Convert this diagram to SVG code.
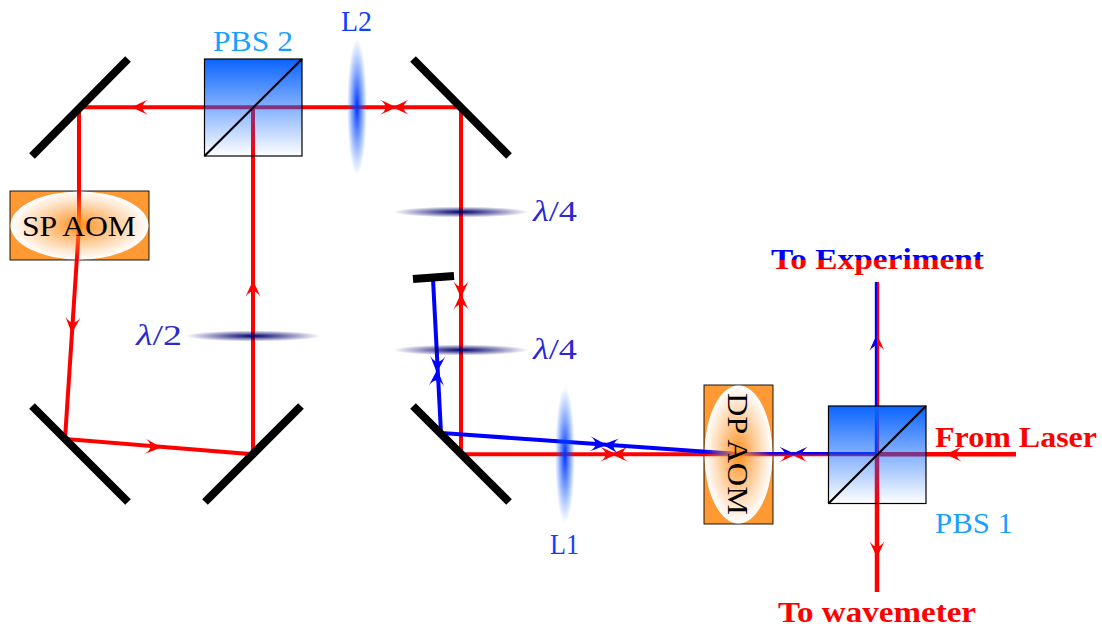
<svg xmlns="http://www.w3.org/2000/svg" xmlns:xlink="http://www.w3.org/1999/xlink" width="1102" height="627" viewBox="0 0 1102 627">
<style>
text{font-family:"Liberation Serif","Times New Roman",serif;font-size:30px}
.b{font-weight:bold}
.pbs{fill:#1a9fff}
.lens{fill:#1040ff}
.wave{fill:#2a2ad0}
.red{fill:#ff0000}
.mirror{stroke:#000;stroke-width:8;fill:none}
.rb{stroke:#ff0000;stroke-width:4;fill:none}
.bb{stroke:#0000ff;stroke-width:4;fill:none}
.rt{stroke:#ff0000;stroke-width:2.4;fill:none}
.bt{stroke:#0000ff;stroke-width:2.4;fill:none}
.cube{fill:url(#cubeG);stroke:#000;stroke-width:1.2}
.diag{stroke:#000;stroke-width:2.2}
.aomr{fill:#ff9933;stroke:#000;stroke-width:.9}
</style>
<defs>
<linearGradient id="cubeG" x1="0" y1="0" x2="0" y2="1"><stop offset="0" stop-color="#0a64ff"/><stop offset="1" stop-color="#0a64ff" stop-opacity="0"/></linearGradient>
<radialGradient id="glow"><stop offset="0" stop-color="#ff8a10" stop-opacity=".95"/><stop offset="1" stop-color="#ff9933" stop-opacity="0"/></radialGradient>
<radialGradient id="lensG"><stop offset="0" stop-color="#0030ff"/><stop offset="1" stop-color="#0a64ff" stop-opacity="0"/></radialGradient>
<radialGradient id="waveG"><stop offset="0" stop-color="#00006e"/><stop offset="1" stop-color="#00006e" stop-opacity="0"/></radialGradient>
<linearGradient id="expG" gradientUnits="userSpaceOnUse" x1="0" y1="240" x2="0" y2="280"><stop offset=".5" stop-color="#0000ff"/><stop offset=".5" stop-color="#ff0000"/></linearGradient>
<path id="ar" d="M2 0Q-3-2.800-14-7.500Q-8.500-4-8.500 0Q-8.500 4-14 7.500Q-3 2.800 2 0Z"/>
<path id="arh" d="M2 0Q-3-2.800-14-7.500Q-8.500-4-8.500 0Z"/>
</defs>

<g id="sp-aom-base"><rect class="aomr" x="10" y="191" width="139" height="69"/><ellipse cx="79.500" cy="225.500" rx="69" ry="34" fill="#fff"/></g>
<g id="dp-aom-base"><rect class="aomr" x="704" y="385" width="69" height="139"/><ellipse cx="738.500" cy="454.500" rx="34" ry="69" fill="#fff"/></g>

<g id="connectors">
<path class="rb" style="stroke-width:4.500" d="M1016 454.300H877"/>
<path class="rb" d="M877 454.300H461V107.300H79V226L65 439L253 454.300V107.300"/>
<path class="rb" style="stroke-width:4.500" d="M877 454V592"/>
<path class="rt" d="M878 454V282"/>
<path class="bt" d="M876 454V282"/>
<path class="bt" d="M877 453.300H738"/>
<path class="bb" d="M738 454L441 433L433 279"/>
<g class="red">
<use xlink:href="#ar" href="#ar" transform="translate(948 454.300) rotate(180)"/>
<use xlink:href="#ar" href="#ar" transform="translate(877 555) rotate(90)"/>
<use xlink:href="#ar" href="#ar" transform="translate(793.500 454.500) rotate(180)"/>
<use xlink:href="#ar" href="#ar" transform="translate(793.500 454.500)"/>
<use xlink:href="#ar" href="#ar" transform="translate(877 337) rotate(-90)"/>
<use xlink:href="#ar" href="#ar" transform="translate(614 454.300)"/>
<use xlink:href="#ar" href="#ar" transform="translate(614 454.300) rotate(180)"/>
<use xlink:href="#ar" href="#ar" transform="translate(134 107.300) rotate(180)"/>
<use xlink:href="#ar" href="#ar" transform="translate(394 107.300)"/>
<use xlink:href="#ar" href="#ar" transform="translate(395 107.300) rotate(180)"/>
<use xlink:href="#ar" href="#ar" transform="translate(461 295) rotate(90)"/>
<use xlink:href="#ar" href="#ar" transform="translate(461 296) rotate(-90)"/>
<use xlink:href="#ar" href="#ar" transform="translate(253 283) rotate(-90)"/>
<use xlink:href="#ar" href="#ar" transform="translate(72 331) rotate(94)"/>
<use xlink:href="#ar" href="#ar" transform="translate(159 447.300) rotate(4.500)"/>
</g>
<g fill="#0000ff">
<use xlink:href="#arh" href="#arh" transform="translate(793.500 454.500) rotate(180) scale(1 -1)"/>
<use xlink:href="#arh" href="#arh" transform="translate(793.500 454.500)"/>
<use xlink:href="#arh" href="#arh" transform="translate(877 337) rotate(-90)"/>
<use xlink:href="#ar" href="#ar" transform="translate(604 444.800) rotate(4)"/>
<use xlink:href="#ar" href="#ar" transform="translate(605 444.900) rotate(184)"/>
<use xlink:href="#ar" href="#ar" transform="translate(437 370) rotate(93)"/>
<use xlink:href="#ar" href="#ar" transform="translate(437.200 372) rotate(-87)"/>
</g>
</g>

<g id="pbs1"><rect class="cube" x="828.500" y="406" width="97.500" height="97.500"/><path class="diag" d="M828.500 503.500L926 406"/><text class="pbs" x="935" y="533" textLength="78" lengthAdjust="spacingAndGlyphs">PBS 1</text></g>
<g id="pbs2"><rect class="cube" x="204.500" y="59" width="97.500" height="97"/><path class="diag" d="M204.500 156L302 59"/><text class="pbs" x="213" y="51" textLength="80" lengthAdjust="spacingAndGlyphs">PBS 2</text></g>

<g id="sp-aom"><ellipse cx="79.500" cy="225.500" rx="69" ry="34" fill="url(#glow)"/><text x="22" y="236" textLength="114" lengthAdjust="spacingAndGlyphs" fill="#000">SP AOM</text></g>
<g id="dp-aom"><ellipse cx="738.500" cy="454.500" rx="34" ry="69" fill="url(#glow)"/><text transform="translate(728 393) rotate(90)" textLength="122" lengthAdjust="spacingAndGlyphs" fill="#000">DP AOM</text></g>

<g id="mirror-tl"><path class="mirror" d="M32 156L128 59"/></g>
<g id="mirror-tr"><path class="mirror" d="M413 59L509 156"/></g>
<g id="mirror-bl"><path class="mirror" d="M32 406L128 502"/></g>
<g id="mirror-bm"><path class="mirror" d="M205 502L301 406"/></g>
<g id="mirror-br"><path class="mirror" d="M413 406L509 502"/></g>
<g id="mirror-short"><path class="mirror" d="M413 279L454 276"/></g>

<g id="lens-l2"><ellipse cx="357" cy="107" rx="10" ry="68" fill="url(#lensG)"/><text class="lens" x="341" y="31" textLength="31" lengthAdjust="spacingAndGlyphs">L2</text></g>
<g id="lens-l1"><ellipse cx="565" cy="455" rx="10" ry="68" fill="url(#lensG)"/><text class="lens" x="550" y="554" textLength="29" lengthAdjust="spacingAndGlyphs">L1</text></g>

<g id="wave-1"><ellipse cx="461" cy="212" rx="68" ry="5.500" fill="url(#waveG)"/><text class="wave" x="533" y="221" textLength="44" lengthAdjust="spacingAndGlyphs"><tspan font-style="italic">λ</tspan>/4</text></g>
<g id="wave-2"><ellipse cx="461" cy="350" rx="68" ry="5.500" fill="url(#waveG)"/><text class="wave" x="533" y="359" textLength="44" lengthAdjust="spacingAndGlyphs"><tspan font-style="italic">λ</tspan>/4</text></g>
<g id="wave-3"><ellipse cx="253" cy="336" rx="68" ry="5.500" fill="url(#waveG)"/><text class="wave" x="136" y="345" textLength="46" lengthAdjust="spacingAndGlyphs"><tspan font-style="italic">λ</tspan>/2</text></g>

<g id="labels">
<text class="b" x="771" y="269" textLength="213" lengthAdjust="spacingAndGlyphs" fill="url(#expG)">To Experiment</text>
<text class="b red" x="935" y="447" textLength="162" lengthAdjust="spacingAndGlyphs">From Laser</text>
<text class="b red" x="778" y="622" textLength="198" lengthAdjust="spacingAndGlyphs">To wavemeter</text>
</g>
</svg>
